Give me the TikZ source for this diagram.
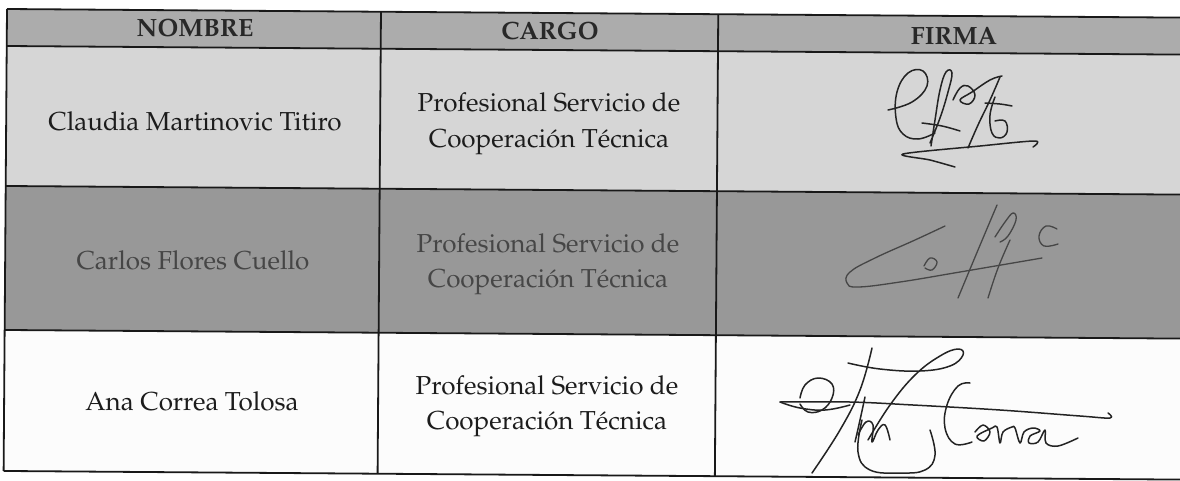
\documentclass[tikz,border=0pt]{standalone}
\usepackage[T1]{fontenc}
\renewcommand{\rmdefault}{ppl}
\definecolor{hdrfill}{RGB}{172,172,172}
\definecolor{rowa}{RGB}{214,214,214}
\definecolor{rowb}{RGB}{152,152,152}
\definecolor{rowc}{RGB}{252,252,252}
\definecolor{linec}{RGB}{25,25,25}
\definecolor{textc}{RGB}{28,28,28}
\definecolor{fadedtext}{RGB}{70,70,70}
\definecolor{hdrtext}{RGB}{40,40,40}
\definecolor{sigc}{RGB}{35,35,35}
\definecolor{sigfaded}{RGB}{70,70,70}
\begin{document}
\begin{tikzpicture}[x=1pt,y=-1pt,
  gridline/.style={draw=linec,line width=1.8pt},
  txt/.style={font=\fontsize{26}{35.5}\selectfont,inner sep=0pt,align=center,text=textc},
  hdr/.style={font=\fontsize{25}{30}\selectfont\bfseries,inner sep=0pt,text=hdrtext,anchor=base},
  sig/.style={line width=1.5pt,line cap=round,line join=round,draw=sigc},
  sigb/.style={line width=1.3pt,line cap=round,line join=round,draw=sigfaded}]
\useasboundingbox (0,0) rectangle (1180,480);
\clip (0,0) rectangle (1180,480);
\fill[white] (0,0) rectangle (1180,480);
% table (slightly rotated like the scan)
\begin{scope}[rotate around={-0.42:(7,9)}]
  \fill[hdrfill] (7,9) rectangle (1200,46);
  \fill[rowa] (7,46) rectangle (1200,186);
  \fill[rowb] (7,186) rectangle (1200,330);
  \fill[rowc] (7,330) rectangle (1200,471);
  \draw[gridline] (7,9) -- (1200,9);
  \draw[gridline] (7,46) -- (1200,46);
  \draw[gridline] (7,186) -- (1200,186);
  \draw[gridline] (7,330) -- (1200,330);
  \draw[gridline] (7,471) -- (1200,471);
  \draw[gridline] (7,9) -- (7,471);
  \draw[gridline] (381,9) -- (381,471);
  \draw[gridline] (718.3,9) -- (718.3,471);
\end{scope}
% header
\node[hdr] (hname) at (195,36) {NOMBRE};
\node[hdr] (hcargo) at (550,39) {CARGO};
\node[hdr] (hfirma) at (954,44) {FIRMA};
% names
\node[txt,anchor=base] (n1) at (195,130) {Claudia Martinovic Titiro};
\node[txt,anchor=base,text=fadedtext] (n2) at (193,269) {Carlos Flores Cuello};
\node[txt,anchor=base] (n3) at (192,410) {Ana Correa Tolosa};
% cargos
\node[txt] (c1) at (549,124) {Profesional Servicio de\\Cooperaci\'on T\'ecnica};
\node[txt,text=fadedtext] (c2) at (548,264.5) {Profesional Servicio de\\Cooperaci\'on T\'ecnica};
\node[txt] (c3) at (547,406.5) {Profesional Servicio de\\Cooperaci\'on T\'ecnica};
% signature 1
\draw[sig] plot[smooth,tension=0.7] coordinates {(888,110) (912,102) (927,86) (923,71) (908,73) (897,92) (896,118) (903,134) (918,139) (935,133)};
\draw[sig] plot[smooth,tension=0.7] coordinates {(930,143) (940,118) (948,92) (952,73) (946,72) (940,90) (935,120) (931,146)};
\draw[sig] plot[smooth,tension=0.7] coordinates {(922,123) (942,126) (960,131)};
\draw[sig] plot[smooth,tension=0.7] coordinates {(953,100) (960,88) (968,86) (975,95) (969,104) (960,100) (972,92) (990,80) (1002,76)};
\draw[sig] plot[smooth,tension=0.7] coordinates {(1000,77) (990,100) (978,125) (968,148)};
\draw[sig] plot[smooth,tension=0.7] coordinates {(985,103) (1000,104) (1012,106)};
\draw[sig] plot[smooth,tension=0.7] coordinates {(995,97) (990,115) (992,133) (1000,138) (1007,132) (1005,121) (995,121)};
\draw[sig] plot[smooth,tension=0.5] coordinates {(1033,147) (1035,141) (980,146) (903,154) (930,160) (955,167)};
% signature 2
\draw[sigb] plot[smooth,tension=0.7] coordinates {(945,226) (915,240) (875,258) (850,272) (847,283) (858,287) (900,282) (960,272) (1042,258)};
\draw[sigb] plot[smooth,tension=0.7] coordinates {(924,266) (930,258) (937,262) (932,270) (925,268)};
\draw[sigb] plot[smooth,tension=0.7] coordinates {(997,205) (978,250) (958,298)};
\draw[sigb] plot[smooth,tension=0.7] coordinates {(1010,240) (998,268) (988,298)};
\draw[sigb] plot[smooth,tension=0.7] coordinates {(995,237) (1005,222) (1013,213) (1016,220) (1008,236) (1000,242)};
\draw[sigb] plot[smooth,tension=0.7] coordinates {(1057,229) (1046,226) (1039,236) (1044,246) (1058,244)};
% signature 3
\draw[sig] plot[smooth,tension=0.6] coordinates {(780,402) (850,402) (913,405) (1000,410) (1080,416) (1110,418) (1108,413)};
\draw[sig] plot[smooth,tension=0.7] coordinates {(780,402) (800,408) (825,410) (850,405)};
\draw[sig] plot[smooth,tension=0.7] coordinates {(800,398) (805,385) (818,378) (832,384) (832,398) (822,410) (808,412) (800,404)};
\draw[sig] plot[smooth,tension=0.7] coordinates {(872,348) (860,390) (840,430) (812,473)};
\draw[sig] plot[smooth,tension=0.7] coordinates {(848,363) (880,369) (920,371) (950,366) (963,355) (958,349) (940,356) (915,375) (890,405) (868,440)};
\draw[sig] plot[smooth,tension=0.7] coordinates {(865,397) (860,420) (855,442)};
\draw[sig] plot[smooth,tension=0.7] coordinates {(858,435) (866,422) (873,425) (872,442) (878,430) (885,425) (890,440)};
\draw[sig] plot[smooth,tension=0.7] coordinates {(862,420) (858,452) (870,470) (900,473) (925,470) (935,455) (930,430)};
\draw[sig] plot[smooth,tension=0.7] coordinates {(970,383) (958,386) (947,405) (945,428) (955,444) (972,442)};
\draw[sig] plot[smooth,tension=0.6] coordinates {(975,432) (983,425) (990,432) (984,441) (977,436) (992,428) (997,427) (1000,443) (1003,432) (1012,427) (1015,428) (1020,443) (1024,432) (1033,428) (1040,431) (1030,436) (1029,443) (1038,442) (1045,430) (1046,443) (1058,446) (1078,438)};
\end{tikzpicture}
\end{document}
